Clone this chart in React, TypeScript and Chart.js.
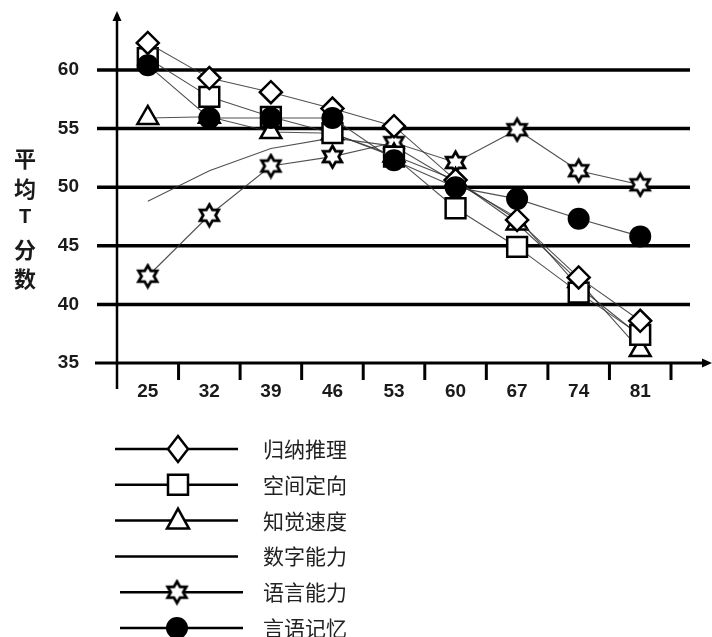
import React, { useEffect, useRef } from 'react';
import { Chart, registerables } from 'chart.js';

Chart.register(...registerables);

const ageLabels = ['25', '32', '39', '46', '53', '60', '67', '74', '81'];
const yTickValues = [35, 40, 45, 50, 55, 60];
const yTitleChars = ['平', '均', 'T', '分', '数'];

const inductiveReasoning = [62.3, 59.3, 58.1, 56.7, 55.2, 50.6, 47.2, 42.3, 38.6];
const spatialOrientation = [61.0, 57.7, 56.0, 54.6, 52.6, 48.2, 44.9, 41.0, 37.4];
const perceptualSpeed = [55.9, 56.0, 54.7, 54.6, 52.7, 50.6, 46.9, 42.0, 36.1];
const numericAbility = [48.8, 51.4, 53.3, 54.2, 53.5, 50.4, 47.4, 41.5, 37.3];
const verbalAbility = [42.4, 47.6, 51.8, 52.6, 53.8, 52.1, 54.9, 51.4, 50.2];
const verbalMemory = [60.4, 55.9, 55.9, 55.9, 52.3, 50.0, 49.0, 47.3, 45.8];

const seriesNames = ['归纳推理', '空间定向', '知觉速度', '数字能力', '语言能力', '言语记忆'];

const BOLD_NUM = 'bold 19px "Liberation Sans", Arial, sans-serif';
const CJK = '"Noto Sans CJK SC", "Noto Sans", sans-serif';

function makeHexagram(size: number, lineWidth: number): HTMLCanvasElement {
  const c = document.createElement('canvas');
  c.width = size;
  c.height = size;
  const ctx = c.getContext('2d')!;
  const cx = size / 2;
  const cy = size / 2;
  const R = size / 2 - lineWidth;
  const r = R / Math.sqrt(3);
  ctx.beginPath();
  for (let k = 0; k < 12; k++) {
    const ang = -Math.PI / 2 + (k * Math.PI) / 6;
    const rad = k % 2 === 0 ? R : r;
    const px = cx + rad * Math.cos(ang);
    const py = cy + rad * Math.sin(ang);
    if (k === 0) ctx.moveTo(px, py);
    else ctx.lineTo(px, py);
  }
  ctx.closePath();
  ctx.fillStyle = '#fff';
  ctx.fill();
  ctx.lineWidth = lineWidth;
  ctx.strokeStyle = '#000';
  ctx.lineJoin = 'miter';
  ctx.stroke();
  return c;
}

function drawMarker(ctx: CanvasRenderingContext2D, kind: string, x: number, y: number, star: HTMLCanvasElement) {
  ctx.save();
  ctx.lineWidth = 2.5;
  ctx.strokeStyle = '#000';
  ctx.fillStyle = '#fff';
  ctx.beginPath();
  if (kind === 'diamond') {
    ctx.moveTo(x, y - 13);
    ctx.lineTo(x + 10, y);
    ctx.lineTo(x, y + 13);
    ctx.lineTo(x - 10, y);
    ctx.closePath();
    ctx.fill();
    ctx.stroke();
  } else if (kind === 'square') {
    ctx.rect(x - 10, y - 10, 20, 20);
    ctx.fill();
    ctx.stroke();
  } else if (kind === 'triangle') {
    ctx.moveTo(x, y - 12);
    ctx.lineTo(x + 11, y + 8);
    ctx.lineTo(x - 11, y + 8);
    ctx.closePath();
    ctx.fill();
    ctx.stroke();
  } else if (kind === 'circle') {
    ctx.arc(x, y, 11, 0, Math.PI * 2);
    ctx.fillStyle = '#000';
    ctx.fill();
  } else if (kind === 'star') {
    ctx.drawImage(star, x - star.width / 2, y - star.height / 2);
  }
  ctx.restore();
}

export default function App() {
  const canvasRef = useRef<HTMLCanvasElement | null>(null);

  useEffect(() => {
    if (!canvasRef.current) return;
    const star = makeHexagram(27, 2.8);
    const markerKinds = ['diamond', 'square', 'triangle', 'none', 'star', 'circle'];

    const framePlugin = {
      id: 'frame',
      beforeDatasetsDraw(chart: any) {
        const { ctx, chartArea } = chart;
        const xs = chart.scales.x;
        const ys = chart.scales.y;
        const left = chartArea.left;
        const right = chartArea.right;
        const base = ys.getPixelForValue(yTickValues[0]);
        ctx.save();
        ctx.strokeStyle = '#000';
        ctx.fillStyle = '#000';
        yTickValues.slice(1).forEach((v) => {
          const py = ys.getPixelForValue(v);
          ctx.lineWidth = 3.5;
          ctx.beginPath();
          ctx.moveTo(left - 20, py);
          ctx.lineTo(right + 19, py);
          ctx.stroke();
        });
        ctx.lineWidth = 3;
        ctx.beginPath();
        ctx.moveTo(left - 22, base);
        ctx.lineTo(right + 34, base);
        ctx.stroke();
        ctx.beginPath();
        ctx.moveTo(right + 41, base);
        ctx.lineTo(right + 31, base - 4.5);
        ctx.lineTo(right + 31, base + 4.5);
        ctx.closePath();
        ctx.fill();
        ctx.lineWidth = 2.5;
        ctx.beginPath();
        ctx.moveTo(left, base + 26);
        ctx.lineTo(left, chartArea.top - 4);
        ctx.stroke();
        ctx.beginPath();
        ctx.moveTo(left, chartArea.top - 12);
        ctx.lineTo(left - 4.5, chartArea.top - 2);
        ctx.lineTo(left + 4.5, chartArea.top - 2);
        ctx.closePath();
        ctx.fill();
        ctx.lineWidth = 3;
        for (let i = 1; i <= ageLabels.length; i++) {
          const px = xs.getPixelForValue(i - 0.5);
          ctx.beginPath();
          ctx.moveTo(px, base);
          ctx.lineTo(px, base + 17);
          ctx.stroke();
        }
        ctx.font = BOLD_NUM;
        ctx.fillStyle = '#1a1a1a';
        ctx.textAlign = 'center';
        ctx.textBaseline = 'middle';
        ageLabels.forEach((lab, i) => {
          ctx.fillText(lab, xs.getPixelForValue(i), base + 29);
        });
        ctx.textAlign = 'right';
        yTickValues.forEach((v) => {
          ctx.fillText(String(v), left - 38, ys.getPixelForValue(v));
        });
        ctx.textAlign = 'center';
        const titleY = [159, 189, 217, 250, 279];
        yTitleChars.forEach((ch, i) => {
          ctx.font = ch === 'T' ? 'bold 20px "Liberation Sans", sans-serif' : 'bold 22px ' + CJK;
          ctx.fillText(ch, 25, titleY[i]);
        });
        ctx.restore();
      },
      afterDraw(chart: any) {
        const { ctx } = chart;
        ctx.save();
        chart.data.datasets.forEach((ds: any, i: number) => {
          const rowY = 449 + i * 35.8;
          const x0 = i >= 4 ? 120 : 115;
          const x1 = i >= 4 ? 243 : 238;
          ctx.strokeStyle = '#000';
          ctx.lineWidth = 2.5;
          ctx.beginPath();
          ctx.moveTo(x0, rowY);
          ctx.lineTo(x1, rowY);
          ctx.stroke();
          drawMarker(ctx, markerKinds[i], i >= 4 ? 177 : 178, rowY, star);
          ctx.font = '21px ' + CJK;
          ctx.fillStyle = '#222';
          ctx.textAlign = 'left';
          ctx.textBaseline = 'middle';
          ctx.fillText(ds.label, 263, rowY);
        });
        ctx.restore();
      },
    };

    const lineColor = 'rgba(50,50,50,0.85)';
    const common = {
      borderColor: lineColor,
      borderWidth: 1.1,
      pointBorderColor: '#000',
      pointBackgroundColor: '#fff',
      pointBorderWidth: 2.5,
      tension: 0,
      fill: false,
    };

    const chart = new Chart(canvasRef.current, {
      type: 'line',
      data: {
        labels: ageLabels,
        datasets: [
          { ...common, label: seriesNames[0], data: inductiveReasoning, pointStyle: 'rectRot', pointRadius: 11, order: 1 },
          { ...common, label: seriesNames[1], data: spatialOrientation, pointStyle: 'rect', pointRadius: 14, order: 2 },
          { ...common, label: seriesNames[2], data: perceptualSpeed, pointStyle: 'triangle', pointRadius: 12, order: 3 },
          { ...common, label: seriesNames[3], data: numericAbility, pointRadius: 0, order: 4 },
          { ...common, label: seriesNames[4], data: verbalAbility, pointStyle: star as any, pointRadius: 12, order: 5 },
          {
            ...common,
            label: seriesNames[5],
            data: verbalMemory,
            pointStyle: 'circle',
            pointRadius: 11,
            pointBackgroundColor: '#000',
            pointBorderWidth: 0,
            order: 0,
          },
        ],
      },
      options: {
        responsive: true,
        maintainAspectRatio: false,
        animation: false,
        layout: { padding: { left: 117, right: 41, top: 23, bottom: 274 } },
        plugins: {
          legend: { display: false },
          tooltip: { enabled: false },
          title: { display: false },
        },
        scales: {
          x: { type: 'category', offset: true, display: false },
          y: { type: 'linear', min: 35, max: 64, display: false },
        },
      },
      plugins: [framePlugin],
    });

    return () => chart.destroy();
  }, []);

  return (
    <div style={{ position: 'absolute', left: 0, top: 0, width: 712, height: 637, background: '#fff' }}>
      <canvas ref={canvasRef} />
    </div>
  );
}
